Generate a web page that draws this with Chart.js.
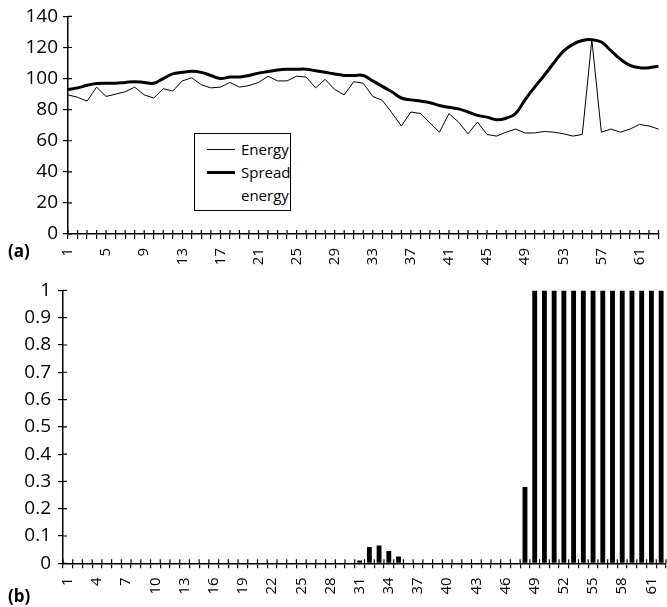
<!DOCTYPE html>
<html>
<head>
<meta charset="utf-8">
<script src="https://cdn.jsdelivr.net/npm/chart.js@4/dist/chart.umd.min.js"></script>
<style>
  body { margin: 0; background: #fff; }
  #wrap { position: relative; width: 667px; height: 607px; font-family: "Open Sans", sans-serif; color: #000; }
  #topBox { position: absolute; left: 0; top: 0; width: 667px; height: 272px; }
  #botBox { position: absolute; left: 0; top: 272px; width: 667px; height: 335px; }
  .tag { position: absolute; left: 8px; font-weight: bold; font-size: 17px; line-height: 18px; }
  #legend { position: absolute; left: 194px; top: 133px; width: 95px; height: 76px; border: 1px solid #000; background: #fff; font-size: 15px; }
  #legend .smp { position: absolute; left: 12px; width: 28px; height: 0; border-top-style: solid; border-top-color: #000; }
  #legend .txt { position: absolute; left: 46px; }
</style>
</head>
<body>
<div id="wrap">
  <div id="topBox"><canvas id="chartA"></canvas></div>
  <div id="botBox"><canvas id="chartB"></canvas></div>
  <div class="tag" style="top:242px">(a)</div>
  <div class="tag" style="top:587px">(b)</div>
  <div id="legend">
    <div class="smp" style="top:15px;border-top-width:1px"></div>
    <div class="txt" style="top:5px;line-height:20px">Energy</div>
    <div class="smp" style="top:37px;border-top-width:3px"></div>
    <div class="txt" style="top:27px;line-height:23px">Spread<br>energy</div>
  </div>
</div>
<script>
// chart (a) : une valeur par trame
const framesA = ['1','2','3','4','5','6','7','8','9','10','11','12','13','14','15','16','17','18','19','20',
  '21','22','23','24','25','26','27','28','29','30','31','32','33','34','35','36','37','38','39','40',
  '41','42','43','44','45','46','47','48','49','50','51','52','53','54','55','56','57','58','59','60',
  '61','62','63'];
const energy = [89.5, 88, 85.5, 94.5, 88.5, 90, 91.5, 94.5, 89.5, 87.5,
  93.5, 92, 98.5, 100.5, 96, 94, 94.5, 97.5, 94.5, 95.5,
  97.5, 101.5, 98.5, 98.5, 101.5, 101, 94, 99.5, 93, 89.5,
  98, 97, 88.5, 86, 78, 69.5, 78.5, 77.5, 71.5, 65.5,
  77.5, 72, 64.5, 72, 64, 63, 65.5, 67.5, 65, 65,
  66, 65.5, 64.5, 63, 64, 125, 65.5, 67.5, 65.5, 67.5,
  70.5, 69.5, 67.5];
const spreadEnergy = [93, 94, 95.7, 96.8, 97, 97, 97.5, 98, 97.5, 97,
  100, 103, 104, 104.7, 104, 102, 100, 101, 101, 102,
  103.5, 104.5, 105.5, 106, 106, 106, 105, 104, 103, 102,
  102, 102, 98.5, 95, 91.5, 87.5, 86.3, 85.5, 84.5, 82.7,
  81.5, 80.5, 78.5, 76.3, 75.2, 73.5, 74.5, 77.5, 86.5, 94.5,
  102, 110, 117.5, 122, 124.5, 125, 123.5, 118, 112.5, 108.5,
  107, 107, 108];

// chart (b)
const framesB = ['1','2','3','4','5','6','7','8','9','10','11','12','13','14','15','16','17','18','19','20',
  '21','22','23','24','25','26','27','28','29','30','31','32','33','34','35','36','37','38','39','40',
  '41','42','43','44','45','46','47','48','49','50','51','52','53','54','55','56','57','58','59','60',
  '61','62'];
const probVals = [0, 0, 0, 0, 0, 0, 0, 0, 0, 0,
  0, 0, 0, 0, 0, 0, 0, 0, 0, 0,
  0, 0, 0, 0, 0, 0, 0, 0, 0, 0,
  0.01, 0.06, 0.065, 0.045, 0.025, 0, 0, 0, 0, 0,
  0, 0, 0, 0, 0, 0, 0, 0.28, 1, 1,
  1, 1, 1, 1, 1, 1, 1, 1, 1, 1,
  1, 1];

Chart.defaults.font.family = '"Open Sans", sans-serif';
Chart.defaults.color = '#000';
Chart.defaults.animation = false;

// petits traits de graduation qui traversent l'axe (vers l'intérieur)
const crossTicks = {
  id: 'crossTicks',
  afterDraw(chart) {
    const ctx = chart.ctx, area = chart.chartArea;
    const x = chart.scales.x, y = chart.scales.y;
    const len = 4;
    const n = x.ticks.length;
    const step = x.getPixelForTick(1) - x.getPixelForTick(0);
    const half = x.options.offset ? step / 2 : 0;
    ctx.save();
    ctx.strokeStyle = '#000';
    ctx.lineWidth = 1.2;
    ctx.beginPath();
    for (let i = 0; i < n; i++) {
      const px = x.getPixelForTick(i) - half;
      ctx.moveTo(px, area.bottom);
      ctx.lineTo(px, area.bottom - len);
    }
    if (half) {
      const px = x.getPixelForTick(n - 1) + half;
      ctx.moveTo(px, area.bottom);
      ctx.lineTo(px, area.bottom - len);
    }
    y.ticks.forEach((t, i) => {
      const py = y.getPixelForTick(i);
      ctx.moveTo(area.left, py);
      ctx.lineTo(area.left + len, py);
    });
    ctx.stroke();
    ctx.restore();
  }
};

function axisX(every, height) {
  return {
    grid: { drawOnChartArea: false, tickLength: 5, color: '#000', lineWidth: 1.2 },
    border: { color: '#000', width: 1.5 },
    ticks: {
      autoSkip: false, minRotation: 90, maxRotation: 90, padding: 9,
      font: { size: 15 },
      callback: function (val, idx) { return idx % every === 0 ? this.getLabelForValue(val) : ''; }
    },
    afterFit: s => { s.height = height; s.paddingLeft = 0; s.paddingRight = 0; }
  };
}

function axisY(min, max, step, width, pad) {
  return {
    min: min, max: max,
    grid: { drawOnChartArea: false, tickLength: 5, color: '#000', lineWidth: 1.2 },
    border: { color: '#000', width: 1.5 },
    ticks: {
      stepSize: step, padding: pad, font: { size: 19 },
      callback: v => String(Math.round(v * 10) / 10)
    },
    afterFit: s => { s.width = width; }
  };
}

new Chart(document.getElementById('chartA'), {
  type: 'line',
  data: {
    labels: framesA,
    datasets: [
      { label: 'Energy', data: energy, borderColor: '#000', borderWidth: 1, pointRadius: 0, tension: 0 },
      { label: 'Spread energy', data: spreadEnergy, borderColor: '#000', borderWidth: 3, pointRadius: 0, tension: 0.4 }
    ]
  },
  options: {
    responsive: true,
    maintainAspectRatio: false,
    layout: { padding: { top: 15.5, right: 8.5, left: 0, bottom: 0 } },
    plugins: { legend: { display: false }, tooltip: { enabled: false } },
    scales: { x: axisX(4, 38), y: axisY(0, 140, 20, 68, 5) }
  },
  plugins: [crossTicks]
});

new Chart(document.getElementById('chartB'), {
  type: 'bar',
  data: {
    labels: framesB,
    datasets: [
      { data: probVals, backgroundColor: '#000', barPercentage: 0.5, categoryPercentage: 1 }
    ]
  },
  options: {
    responsive: true,
    maintainAspectRatio: false,
    layout: { padding: { top: 17.3, right: 1, left: 0, bottom: 0 } },
    plugins: { legend: { display: false }, tooltip: { enabled: false } },
    scales: { x: axisX(3, 43.7), y: axisY(0, 1, 0.1, 63, 7) }
  },
  plugins: [crossTicks]
});
</script>
</body>
</html>
